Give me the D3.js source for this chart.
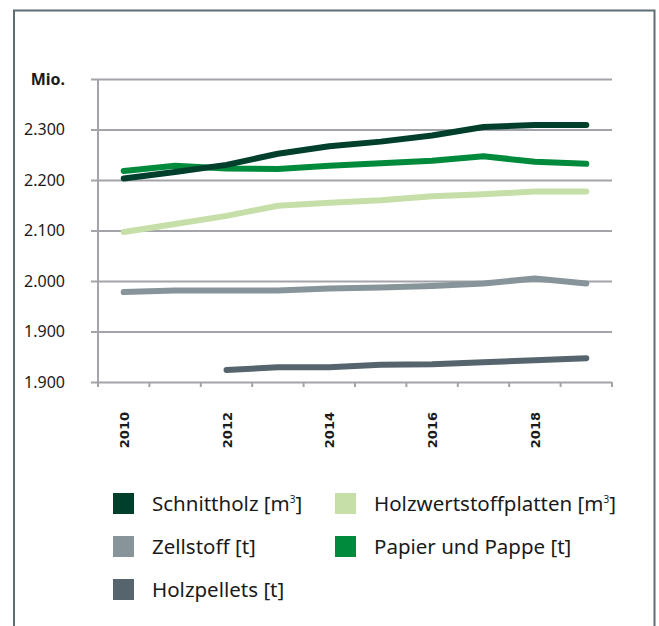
<!DOCTYPE html>
<html>
<head>
<meta charset="utf-8">
<script src="https://cdn.jsdelivr.net/npm/d3@7"></script>
<style>
  body { margin: 0; background: #fff; }
  svg { display: block; font-family: "Noto Sans", "Open Sans", sans-serif; }
</style>
</head>
<body>
<svg id="chart"></svg>
<script>
// Years on the x axis
const years = [2010, 2011, 2012, 2013, 2014, 2015, 2016, 2017, 2018, 2019];

// Series values (Mio.)
const schnittholz = [2203, 2216, 2230, 2252, 2267, 2276, 2288, 2305, 2309, 2309];
const papierPappe = [2218, 2228, 2223, 2222, 2228, 2233, 2238, 2247, 2236, 2232];
const holzwerkstoff = [2097, 2113, 2129, 2149, 2155, 2160, 2168, 2172, 2177, 2177];
const zellstoff = [1978, 1981, 1981, 1981, 1985, 1987, 1990, 1995, 2005, 1995];
const holzpellets = [null, null, 1824, 1829, 1829, 1834, 1835, 1839, 1843, 1847];

// Y tick values and the labels as printed
const yTickValues = [1800, 1900, 2000, 2100, 2200, 2300, 2400];
const yTickLabels = ['1.900', '1.900', '2.000', '2.100', '2.200', '2.300', 'Mio.'];
const xLabelYears = [2010, 2012, 2014, 2016, 2018];

const series = [
  { name: 'Holzpellets [t]', values: holzpellets, color: '#56656d' },
  { name: 'Zellstoff [t]', values: zellstoff, color: '#87959b' },
  { name: 'Holzwertstoffplatten [m³]', values: holzwerkstoff, color: '#c6dfa9' },
  { name: 'Papier und Pappe [t]', values: papierPappe, color: '#008a3b' },
  { name: 'Schnittholz [m³]', values: schnittholz, color: '#003f2c' }
];

const legendItems = [
  { label: 'Schnittholz [m', sup: '3', tail: ']', color: '#003f2c', col: 0, row: 0 },
  { label: 'Holzwertstoffplatten [m', sup: '3', tail: ']', color: '#c6dfa9', col: 1, row: 0 },
  { label: 'Zellstoff [t]', color: '#87959b', col: 0, row: 1 },
  { label: 'Papier und Pappe [t]', color: '#008a3b', col: 1, row: 1 },
  { label: 'Holzpellets [t]', color: '#56656d', col: 0, row: 2 }
];

const W = 659, H = 626;
const margin = { top: 79, left: 98, right: 47, bottom: 244 };
const width = W - margin.left - margin.right;
const height = H - margin.top - margin.bottom;

const svg = d3.select('#chart').attr('width', W).attr('height', H);

// Frame (open at the bottom)
svg.append('path')
  .attr('d', `M14,${H} V10.5 H654.5 V${H}`)
  .attr('fill', 'none')
  .attr('stroke', '#5f6d74')
  .attr('stroke-width', 2);

const g = svg.append('g').attr('transform', `translate(${margin.left},${margin.top})`);

const x = d3.scaleBand().domain(years).range([0, width]);
const y = d3.scaleLinear().domain([1800, 2400]).range([height, 0]);

// Gridlines with y ticks
const yAxis = d3.axisLeft(y)
  .tickValues(yTickValues)
  .tickSize(-width)
  .tickPadding(33)
  .tickFormat((d, i) => yTickLabels[i]);

const yAxisG = g.append('g').attr('class', 'y-axis').call(yAxis);
yAxisG.select('.domain').remove();
yAxisG.selectAll('.tick line')
  .attr('x1', -7)
  .attr('stroke', '#a3a4aa')
  .attr('stroke-width', 2);
yAxisG.selectAll('.tick text')
  .attr('fill', '#1a1a1a')
  .style('font-size', '16px')
  .style('font-family', '"Noto Sans", sans-serif')
  .style('font-weight', (d, i) => yTickLabels[i] === 'Mio.' ? 'bold' : 'normal');

// Vertical axis line
g.append('line')
  .attr('x1', 0).attr('x2', 0)
  .attr('y1', 0).attr('y2', height)
  .attr('stroke', '#a3a4aa')
  .attr('stroke-width', 2);

// X axis with ticks at band boundaries
const xAxisG = g.append('g').attr('transform', `translate(0,${height})`);
const boundaries = years.map(d => x(d)).concat([width]);
xAxisG.selectAll('.xtick')
  .data(boundaries)
  .join('line')
  .attr('class', 'xtick')
  .attr('x1', d => d).attr('x2', d => d)
  .attr('y1', 0).attr('y2', 5)
  .attr('stroke', '#a3a4aa')
  .attr('stroke-width', 2);

xAxisG.selectAll('.xlabel')
  .data(xLabelYears)
  .join('text')
  .attr('class', 'xlabel')
  .attr('transform', d => `translate(${x(d) + x.bandwidth() / 2 + 5},30) rotate(-90)`)
  .attr('text-anchor', 'end')
  .attr('fill', '#1a1a1a')
  .style('font-size', '13px')
  .style('font-weight', 'bold')
  .style('font-family', '"DejaVu Sans", sans-serif')
  .text(d => d);

// Lines
const line = d3.line()
  .defined(d => d != null)
  .x((d, i) => x(years[i]) + x.bandwidth() / 2)
  .y(d => y(d));

g.selectAll('.series')
  .data(series)
  .join('path')
  .attr('class', 'series')
  .attr('d', d => line(d.values))
  .attr('fill', 'none')
  .attr('stroke', d => d.color)
  .attr('stroke-width', 6)
  .attr('stroke-linecap', 'round')
  .attr('stroke-linejoin', 'round');

// Legend
const legend = svg.append('g').attr('transform', 'translate(113,493)');
const item = legend.selectAll('.item')
  .data(legendItems)
  .join('g')
  .attr('class', 'item')
  .attr('transform', d => `translate(${d.col * 222},${d.row * 43})`);

item.append('rect')
  .attr('width', 21).attr('height', 21)
  .attr('fill', d => d.color);

const txt = item.append('text')
  .attr('x', 39).attr('y', 18)
  .attr('fill', '#1a1a1a')
  .style('font-size', '20.5px');
txt.append('tspan').text(d => d.label);
txt.filter(d => d.sup).append('tspan')
  .attr('dy', -8)
  .style('font-size', '10px')
  .text(d => d.sup);
txt.filter(d => d.sup).append('tspan')
  .attr('dy', 8)
  .text(d => d.tail);
</script>
</body>
</html>
